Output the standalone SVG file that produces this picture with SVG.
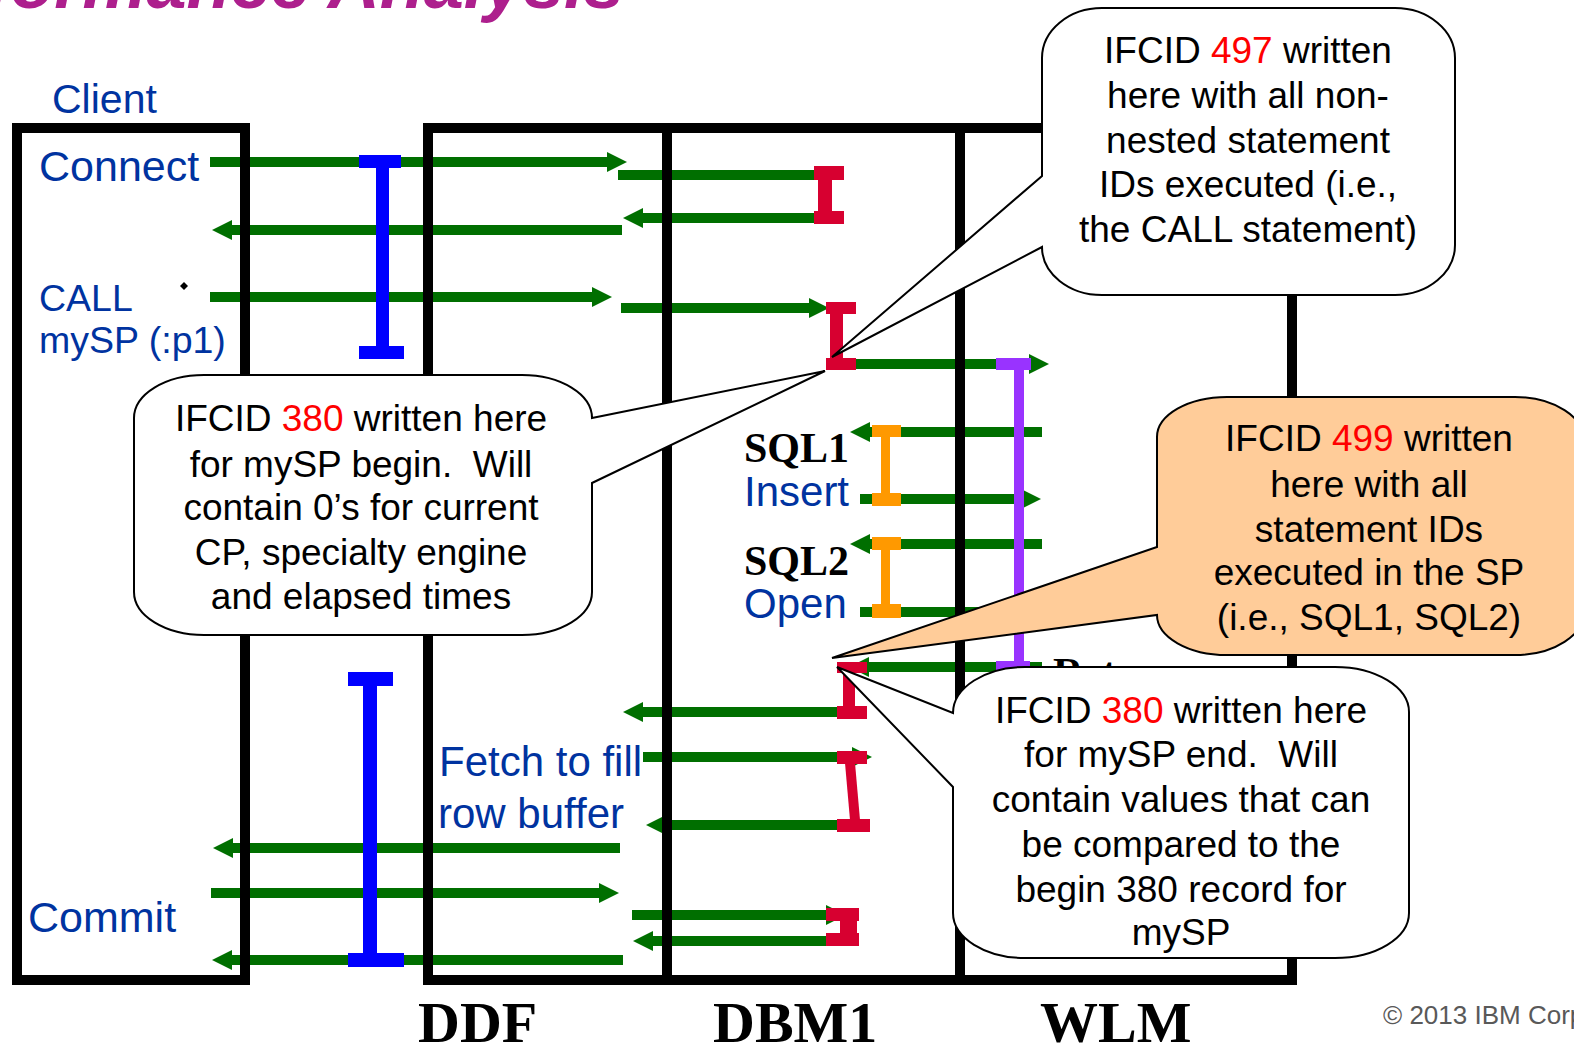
<svg xmlns="http://www.w3.org/2000/svg" width="1574" height="1050" viewBox="0 0 1574 1050">
<defs>
<style>
.ar{stroke:#006f00;stroke-width:10;fill:none}
.arh{marker-end:url(#ah)}
.box{fill:none;stroke:#000;stroke-width:10}
.dv{stroke:#000;stroke-width:10}
.red{fill:#d70030}
.blu{fill:#0000ff}
.pur{fill:#9933ff}
.org{fill:#ff9900}
.co{stroke:#000;stroke-width:2;fill:#fff}
.cop{stroke:#000;stroke-width:2;fill:#ffcc99}
.cot{font-family:"Liberation Sans",Arial,sans-serif;font-size:37px;fill:#000;text-anchor:middle;white-space:pre}
.r{fill:#ff0000}
.lbl{font-family:"Liberation Sans",Arial,sans-serif;fill:#0033a0}
.tb{font-family:"Liberation Serif","Times New Roman",serif;font-weight:bold;fill:#000}
</style>
<marker id="ah" viewBox="0 0 20 20" refX="1" refY="10" markerWidth="20" markerHeight="20" markerUnits="userSpaceOnUse" orient="auto"><path d="M0,0 L20,10 L0,20 Z" fill="#006f00"/></marker>
</defs>
<rect width="1574" height="1050" fill="#fff"/>

<text id="title" x="624" y="8" text-anchor="end" font-family="Liberation Sans, Arial, sans-serif" font-weight="bold" font-style="italic" font-size="72" fill="#ad1f8d">Performance Analysis</text>

<g id="connectors">
<line class="ar arh" x1="210" y1="162" x2="608" y2="162"/>
<line class="ar" x1="618" y1="175" x2="822" y2="175"/>
<line class="ar arh" x1="817" y1="218" x2="642" y2="218"/>
<line class="ar arh" x1="622" y1="230" x2="231" y2="230"/>
<line class="ar arh" x1="210" y1="297" x2="593" y2="297"/>
<line class="ar arh" x1="621" y1="308" x2="810" y2="308"/>
<line class="ar arh" x1="845" y1="364" x2="1030" y2="364"/>
<line class="ar arh" x1="1042" y1="432" x2="869" y2="432"/>
<line class="ar arh" x1="860" y1="499" x2="1022" y2="499"/>
<line class="ar arh" x1="1042" y1="544" x2="869" y2="544"/>
<line class="ar arh" x1="860" y1="612" x2="1022" y2="612"/>
<line class="ar arh" x1="1042" y1="667" x2="868" y2="667"/>
<line class="ar arh" x1="845" y1="712" x2="642" y2="712"/>
<line class="ar arh" x1="643" y1="757" x2="853" y2="757"/>
<line class="ar arh" x1="845" y1="825" x2="665" y2="825"/>
<line class="ar arh" x1="620" y1="848" x2="232" y2="848"/>
<line class="ar arh" x1="211" y1="893" x2="600" y2="893"/>
<line class="ar arh" x1="632" y1="915" x2="827" y2="915"/>
<line class="ar arh" x1="845" y1="941" x2="652" y2="941"/>
<line class="ar arh" x1="623" y1="960" x2="231" y2="960"/>
</g>

<g id="client-box"><rect class="box" x="17" y="128" width="228" height="852"/></g>
<g id="server-box">
<rect class="box" x="428" y="128" width="864" height="852"/>
<line class="dv" x1="667" y1="128" x2="667" y2="980"/>
<line class="dv" x1="960" y1="128" x2="960" y2="980"/>
</g>

<g id="labels">
<text class="lbl" x="52" y="113" font-size="41">Client</text>
<text class="lbl" x="39" y="181" font-size="43">Connect</text>
<text class="lbl" x="39" y="311" font-size="37.5">CALL</text>
<text class="lbl" x="39" y="353" font-size="37.5">mySP (:p1)</text>
<text class="lbl" x="28" y="932" font-size="43">Commit</text>
<text class="lbl" x="439" y="776" font-size="42">Fetch to fill</text>
<text class="lbl" x="438" y="828" font-size="42">row buffer</text>
<text class="tb" x="744" y="462" font-size="42">SQL1</text>
<text class="lbl" x="744" y="506" font-size="42">Insert</text>
<text class="tb" x="744" y="575" font-size="42">SQL2</text>
<text class="lbl" x="744" y="618" font-size="42">Open</text>
<text class="tb" x="418" y="1042" font-size="58">DDF</text>
<text class="tb" x="713" y="1042" font-size="58">DBM1</text>
<text class="tb" x="1040" y="1042" font-size="58">WLM</text>
<text x="1383" y="1024" font-family="Liberation Sans, Arial, sans-serif" font-size="26" fill="#595959">© 2013 IBM Corporation</text>
<text class="tb" x="1053" y="687" font-size="42">Return</text>
<polygon points="184,282 188,286 184,290 180,286" fill="#000"/>
</g>

<g id="ibeam-blue-1" class="blu">
<rect x="359" y="155" width="42" height="13"/><rect x="376" y="167" width="13" height="180"/><rect x="359" y="346" width="45" height="13"/>
</g>
<g id="ibeam-blue-2" class="blu">
<rect x="348" y="672" width="45" height="14"/><rect x="363" y="685" width="14" height="269"/><rect x="348" y="953" width="56" height="14"/>
</g>
<g id="ibeam-red-connect" class="red">
<rect x="814" y="166" width="30" height="14"/><rect x="818" y="179" width="14" height="33"/><rect x="814" y="211" width="30" height="13"/>
</g>
<g id="ibeam-red-call" class="red">
<rect x="826" y="302" width="30" height="12"/><rect x="830" y="313" width="13" height="46"/><rect x="826" y="358" width="30" height="12"/>
</g>
<g id="ibeam-purple" class="pur">
<rect x="996" y="358" width="35" height="12"/><rect x="1014" y="369" width="10" height="293"/><rect x="996" y="661" width="34" height="12"/>
</g>
<g id="ibeam-orange-1" class="org">
<rect x="872" y="425" width="29" height="12"/><rect x="881" y="436" width="9" height="58"/><rect x="872" y="493" width="29" height="13"/>
</g>
<g id="ibeam-orange-2" class="org">
<rect x="872" y="537" width="29" height="13"/><rect x="881" y="549" width="9" height="56"/><rect x="872" y="604" width="29" height="14"/>
</g>
<g id="ibeam-red-end" class="red">
<rect x="837" y="662" width="30" height="11"/><rect x="843" y="672" width="12" height="35"/><rect x="837" y="706" width="30" height="13"/>
</g>
<g id="ibeam-red-fetch" class="red">
<rect x="837" y="751" width="30" height="13"/><polygon points="845,763 855,763 860,820 850,820"/><rect x="837" y="819" width="33" height="13"/>
</g>
<g id="ibeam-red-commit" class="red">
<rect x="826" y="908" width="33" height="13"/><rect x="840" y="920" width="17" height="14"/><rect x="826" y="933" width="33" height="13"/>
</g>

<g id="callout-497">
<path class="co" d="M1102,8 H1395 A60 50 0 0 1 1455,58 V245 A60 50 0 0 1 1395,295 H1102 A60 48 0 0 1 1042,247 L832,357 L1042,176 V58 A60 50 0 0 1 1102,8 Z"/>
<text class="cot"><tspan x="1248" y="63">IFCID <tspan class="r">497</tspan> written</tspan><tspan x="1248" y="108">here with all non-</tspan><tspan x="1248" y="153">nested statement</tspan><tspan x="1248" y="197">IDs executed (i.e.,</tspan><tspan x="1248" y="242">the CALL statement)</tspan></text>
</g>

<g id="callout-380-begin">
<path class="co" d="M204,375 H522 A70 43 0 0 1 592,418 L825,371 L592,483 V592 A70 43 0 0 1 522,635 H204 A70 43 0 0 1 134,592 V418 A70 43 0 0 1 204,375 Z"/>
<text class="cot"><tspan x="361" y="431">IFCID <tspan class="r">380</tspan> written here</tspan><tspan x="361" y="477">for mySP begin.  Will</tspan><tspan x="361" y="520">contain 0’s for current</tspan><tspan x="361" y="565">CP, specialty engine</tspan><tspan x="361" y="609">and elapsed times</tspan></text>
</g>

<g id="callout-499">
<path class="cop" d="M1227,397 H1515 A70 45 0 0 1 1585,442 V610 A70 45 0 0 1 1515,655 H1227 A70 40 0 0 1 1157,615 L832,658 L1157,547 V437 A70 40 0 0 1 1227,397 Z"/>
<text class="cot"><tspan x="1369" y="451">IFCID <tspan class="r">499</tspan> written</tspan><tspan x="1369" y="497">here with all</tspan><tspan x="1369" y="542">statement IDs</tspan><tspan x="1369" y="585">executed in the SP</tspan><tspan x="1369" y="630">(i.e., SQL1, SQL2)</tspan></text>
</g>

<g id="callout-380-end">
<path class="co" d="M1025,667 H1335 A74 45 0 0 1 1409,712 V913 A74 45 0 0 1 1335,958 H1025 A72 45 0 0 1 953,913 V787 L837,667 L953,713 A72 46 0 0 1 1025,667 Z"/>
<text class="cot"><tspan x="1181" y="723">IFCID <tspan class="r">380</tspan> written here</tspan><tspan x="1181" y="767">for mySP end.  Will</tspan><tspan x="1181" y="812">contain values that can</tspan><tspan x="1181" y="857">be compared to the</tspan><tspan x="1181" y="902">begin 380 record for</tspan><tspan x="1181" y="945">mySP</tspan></text>
</g>
</svg>
